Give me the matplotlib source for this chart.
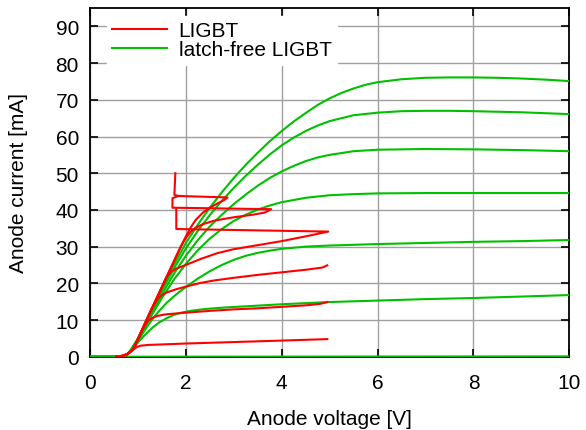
import matplotlib
matplotlib.use("Agg")
import matplotlib.pyplot as plt

plt.rcParams['font.family'] = ['Liberation Sans', 'DejaVu Sans']

# latch-free LIGBT (green), one curve per gate voltage
g0_v = [0.0, 10.0]
g0_i = [0.0, 0.1]

g17_v = [0.0, 0.65, 0.75, 0.85, 1.0, 1.15, 1.3, 1.45, 1.6, 1.75, 1.9, 2.1, 2.4, 2.8, 3.2, 4.0, 5.0, 6.0, 7.0, 8.0, 9.0, 10.0]
g17_i = [0.0, 0.0, 0.3, 1.5, 3.9, 6.0, 7.9, 9.4, 10.5, 11.4, 12.0, 12.5, 13.0, 13.4, 13.7, 14.3, 14.9, 15.3, 15.7, 16.0, 16.4, 16.8]

g32_v = [0.0, 0.65, 0.75, 0.85, 1.0, 1.15, 1.3, 1.45, 1.6, 1.8, 2.0, 2.25, 2.5, 2.75, 3.0, 3.25, 3.5, 3.75, 4.0, 4.5, 5.0, 6.0, 7.0, 8.0, 9.0, 10.0]
g32_i = [0.0, 0.0, 0.3, 1.6, 4.3, 7.4, 10.2, 12.6, 14.7, 17.0, 19.0, 21.3, 23.3, 25.0, 26.4, 27.5, 28.3, 28.9, 29.4, 30.0, 30.3, 30.7, 31.0, 31.3, 31.5, 31.8]

g44_v = [0.0, 0.65, 0.75, 0.85, 1.0, 1.25, 1.5, 1.75, 2.0, 2.25, 2.5, 2.75, 3.0, 3.25, 3.5, 3.75, 4.0, 4.5, 5.0, 5.5, 6.0, 7.0, 8.0, 10.0]
g44_i = [0.0, 0.0, 0.3, 1.7, 4.5, 10.5, 16.0, 21.0, 25.3, 29.0, 32.2, 34.8, 37.0, 38.7, 40.1, 41.2, 42.1, 43.3, 44.0, 44.3, 44.5, 44.6, 44.6, 44.6]

g56_v = [0.0, 0.65, 0.75, 0.85, 1.0, 1.25, 1.5, 1.75, 2.0, 2.25, 2.5, 2.75, 3.0, 3.25, 3.5, 3.75, 4.0, 4.25, 4.5, 4.75, 5.0, 5.5, 6.0, 7.0, 8.0, 9.0, 10.0]
g56_i = [0.0, 0.0, 0.3, 1.7, 4.7, 11.0, 17.0, 22.6, 27.5, 31.8, 35.5, 38.7, 41.6, 44.2, 46.6, 48.7, 50.5, 52.0, 53.3, 54.3, 55.0, 56.0, 56.4, 56.6, 56.5, 56.3, 56.0]

g66_v = [0.0, 0.65, 0.75, 0.85, 1.0, 1.25, 1.5, 1.75, 2.0, 2.25, 2.5, 2.75, 3.0, 3.25, 3.5, 3.75, 4.0, 4.25, 4.5, 4.75, 5.0, 5.5, 6.0, 6.5, 7.0, 7.5, 8.0, 9.0, 10.0]
g66_i = [0.0, 0.0, 0.3, 1.8, 4.9, 11.5, 18.0, 24.0, 29.5, 34.3, 38.6, 42.5, 46.0, 49.3, 52.3, 55.1, 57.6, 59.7, 61.5, 63.0, 64.2, 65.8, 66.5, 66.9, 67.0, 67.0, 66.9, 66.6, 66.1]

g75_v = [0.0, 0.65, 0.75, 0.85, 1.0, 1.25, 1.5, 1.75, 2.0, 2.25, 2.5, 2.75, 3.0, 3.25, 3.5, 3.75, 4.0, 4.25, 4.5, 4.75, 5.0, 5.25, 5.5, 5.75, 6.0, 6.5, 7.0, 7.5, 8.0, 8.5, 9.0, 9.5, 10.0]
g75_i = [0.0, 0.0, 0.3, 1.8, 5.0, 11.8, 18.5, 25.0, 31.0, 36.0, 40.6, 44.8, 48.7, 52.3, 55.6, 58.7, 61.5, 64.1, 66.4, 68.6, 70.4, 71.9, 73.1, 74.1, 74.8, 75.6, 76.0, 76.1, 76.1, 76.0, 75.8, 75.5, 75.1]

# LIGBT (red), the upper ones snap back when they latch
r5_v = [0.55, 0.7, 0.8, 0.9, 0.97, 1.05, 1.2, 1.5, 2.0, 3.0, 4.0, 4.95]
r5_i = [0.0, 0.3, 0.9, 1.9, 2.6, 3.0, 3.2, 3.35, 3.6, 4.0, 4.4, 4.8]

r15_v = [0.55, 0.7, 0.8, 0.9, 1.0, 1.1, 1.2, 1.3, 1.4, 1.55, 1.8, 2.0, 2.5, 3.0, 3.5, 4.0, 4.5, 4.8, 4.95]
r15_i = [0.0, 0.3, 0.9, 2.0, 4.8, 7.6, 9.6, 10.6, 11.1, 11.5, 11.8, 12.0, 12.5, 12.9, 13.2, 13.6, 14.0, 14.4, 14.9]

r24_v = [0.55, 0.7, 0.8, 0.9, 1.0, 1.1, 1.2, 1.3, 1.4, 1.5, 1.6, 1.8, 2.0, 2.3, 2.6, 3.0, 3.5, 4.0, 4.5, 4.85, 4.95]
r24_i = [0.0, 0.3, 0.9, 2.0, 4.8, 7.7, 10.6, 13.4, 15.6, 16.8, 17.5, 18.4, 19.1, 20.1, 20.8, 21.5, 22.3, 23.0, 23.7, 24.3, 24.9]

r34_v = [0.55, 0.7, 0.8, 0.9, 1.0, 1.2, 1.4, 1.6, 1.7, 1.8, 2.0, 2.3, 2.65, 3.0, 3.5, 4.0, 4.5, 4.97, 1.80, 1.80]
r34_i = [0.0, 0.3, 0.9, 2.0, 4.8, 10.6, 16.2, 21.8, 23.2, 24.0, 25.0, 26.6, 28.2, 29.3, 30.4, 31.5, 32.8, 34.1, 34.8, 40.4]

r40_v = [0.55, 0.7, 0.8, 0.9, 1.0, 1.2, 1.4, 1.6, 1.8, 1.9, 2.0, 2.1, 2.2, 2.35, 2.6, 3.0, 3.4, 3.65, 3.78, 1.72, 1.72, 1.85]
r40_i = [0.0, 0.3, 0.9, 2.0, 4.8, 10.6, 16.2, 21.8, 27.4, 30.2, 32.4, 34.0, 35.1, 36.1, 37.1, 38.0, 38.7, 39.3, 40.2, 40.6, 43.2, 43.8]

r43_v = [0.55, 0.7, 0.8, 0.9, 1.0, 1.2, 1.4, 1.6, 1.8, 2.0, 2.1, 2.2, 2.35, 2.5, 2.65, 2.8, 2.87, 1.85, 1.76, 1.78]
r43_i = [0.0, 0.3, 0.9, 2.0, 4.8, 10.6, 16.2, 21.8, 27.4, 32.8, 35.2, 37.2, 39.2, 40.6, 41.7, 42.7, 43.4, 43.8, 44.1, 50.0]

green_curves = [(g0_v, g0_i), (g17_v, g17_i), (g32_v, g32_i), (g44_v, g44_i),
                (g56_v, g56_i), (g66_v, g66_i), (g75_v, g75_i)]
red_curves = [(r5_v, r5_i), (r15_v, r15_i), (r24_v, r24_i), (r34_v, r34_i),
              (r40_v, r40_i), (r43_v, r43_i)]

red = '#ff0000'
green = '#00c000'
fs = 15

fig = plt.figure(figsize=(5.86, 4.31), dpi=100)
ax = fig.add_axes([0.1536, 0.170, 0.818, 0.809])

for k, (v, i) in enumerate(green_curves):
    ax.plot(v, i, color=green, lw=1.5, zorder=3,
            label='latch-free LIGBT' if k == 0 else None)
for k, (v, i) in enumerate(red_curves):
    ax.plot(v, i, color=red, lw=1.5, zorder=4,
            label='LIGBT' if k == 0 else None)

ax.set_xlim(0, 10)
ax.set_ylim(0, 95)
ax.set_xticks(range(0, 11, 2))
ax.set_yticks(range(0, 91, 10))
ax.grid(True, color='#a0a0a0', lw=1.0)
ax.set_axisbelow(True)
ax.tick_params(direction='in', length=6, width=1.2, top=True, right=True,
               labelsize=fs)
ax.tick_params(axis='x', pad=12)
ax.tick_params(axis='y', pad=8)
for s in ax.spines.values():
    s.set_linewidth(1.3)

ax.set_xlabel('Anode voltage [V]', fontsize=fs, labelpad=12)
ax.set_ylabel('Anode current [mA]', fontsize=fs, labelpad=20)

handles, labels = ax.get_legend_handles_labels()
order = [labels.index('LIGBT'), labels.index('latch-free LIGBT')]
leg = ax.legend([handles[j] for j in order], [labels[j] for j in order],
                loc='upper left', bbox_to_anchor=(0.035, 0.978), borderaxespad=0,
                frameon=True, fontsize=fs, handlelength=2.65, handletextpad=0.55,
                borderpad=0.25, labelspacing=0.02, fancybox=False)
leg.get_frame().set_edgecolor('white')
leg.get_frame().set_alpha(1.0)

fig.savefig('out.png', dpi=100)
